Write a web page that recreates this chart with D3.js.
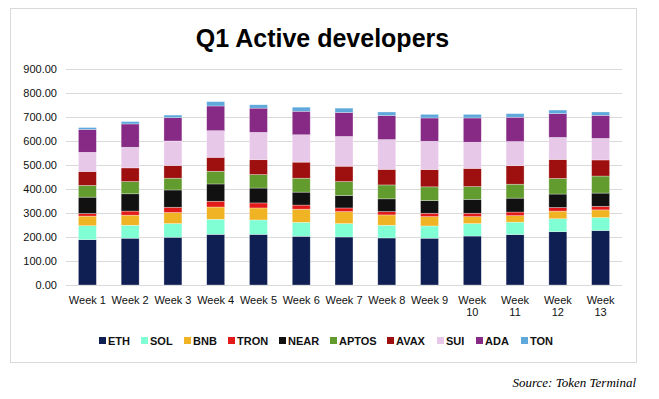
<!DOCTYPE html>
<html>
<head>
<meta charset="utf-8">
<script src="https://cdn.jsdelivr.net/npm/d3@7"></script>
<style>
  html, body { margin: 0; padding: 0; background: #fff; }
  svg { display: block; }
</style>
</head>
<body>
<div id="chart"></div>
<script>
const weeks = ['Week 1', 'Week 2', 'Week 3', 'Week 4', 'Week 5', 'Week 6', 'Week 7',
  'Week 8', 'Week 9', 'Week 10', 'Week 11', 'Week 12', 'Week 13'];

const chains = ['ETH', 'SOL', 'BNB', 'TRON', 'NEAR', 'APTOS', 'AVAX', 'SUI', 'ADA', 'TON'];

const eth   = [189, 195, 199, 211, 211, 203, 200, 196, 195, 204, 210, 222, 227];
const sol   = [58, 54, 57, 63, 60, 58, 56, 53, 51, 52, 52, 54, 54];
const bnb   = [40, 42, 46, 51, 50, 55, 50, 43, 39, 29, 27, 32, 32];
const tron  = [11, 17, 22, 24, 21, 17, 15, 14, 14, 14, 15, 15, 15];
const near  = [68, 72, 72, 72, 62, 54, 52, 53, 53, 58, 58, 56, 55];
const aptos = [49, 51, 49, 53, 56, 58, 58, 58, 57, 53, 58, 65, 71];
const avax  = [58, 57, 53, 58, 62, 67, 64, 65, 72, 76, 77, 79, 67];
const sui   = [80, 86, 102, 111, 114, 114, 124, 124, 118, 109, 101, 92, 90];
const ada   = [95, 97, 97, 103, 101, 98, 100, 100, 97, 101, 101, 99, 96];
const ton   = [8, 10, 11, 18, 14, 17, 18, 15, 15, 15, 15, 15, 14];

const yTicks = [0, 100, 200, 300, 400, 500, 600, 700, 800, 900];

const colors = ['#0f1f54', '#80ffd4', '#f0b323', '#e31a1a', '#111111',
  '#629b2e', '#9e1010', '#e8c8e8', '#862a86', '#5ea8dc'];

const series = [eth, sol, bnb, tron, near, aptos, avax, sui, ada, ton];

const W = 659, H = 399;
const margin = { top: 69, right: 37, bottom: 114, left: 66 };
const w = W - margin.left - margin.right;
const h = H - margin.top - margin.bottom;

const rows = weeks.map((wk, i) => {
  const r = { week: wk };
  chains.forEach((c, j) => { r[c] = series[j][i]; });
  return r;
});
const stacked = d3.stack().keys(chains)(rows);

const x = d3.scaleBand().domain(weeks).range([0, w]).paddingInner(0.58).paddingOuter(0.29);
const y = d3.scaleLinear().domain([0, 900]).range([h, 0]);
const color = d3.scaleOrdinal().domain(chains).range(colors);

const svg = d3.select('#chart').append('svg').attr('width', W).attr('height', H)
  .style('font-family', '"Liberation Sans", Arial, sans-serif');

// outer frame
svg.append('rect')
  .attr('x', 10.5).attr('y', 8.5).attr('width', 626).attr('height', 354)
  .attr('fill', '#fff').attr('stroke', '#d9d9d9');

svg.append('text')
  .attr('x', 322.5).attr('y', 47)
  .attr('text-anchor', 'middle')
  .attr('font-size', '25px').attr('font-weight', 'bold').attr('fill', '#000')
  .text('Q1 Active developers');

const g = svg.append('g').attr('transform', `translate(${margin.left},${margin.top})`);

// gridlines + y axis labels
const yAxis = g.append('g').call(d3.axisLeft(y).tickValues(yTicks).tickSize(-w).tickPadding(9)
  .tickFormat(d3.format('.2f')));
yAxis.select('.domain').remove();
yAxis.selectAll('.tick line').attr('stroke', '#d9d9d9').attr('stroke-width', 1.2);
yAxis.selectAll('.tick text').attr('font-size', '11px').attr('fill', '#111')
  .style('font-family', '"Liberation Sans", Arial, sans-serif');

// bars
g.selectAll('.layer')
  .data(stacked)
  .join('g')
  .attr('class', 'layer')
  .attr('fill', d => color(d.key))
  .selectAll('rect')
  .data(d => d)
  .join('rect')
  .attr('x', d => x(d.data.week))
  .attr('y', d => y(d[1]))
  .attr('width', x.bandwidth())
  .attr('height', d => y(d[0]) - y(d[1]))
  .attr('stroke', 'rgba(255,255,255,0.5)')
  .attr('stroke-width', 0.6);

// x axis labels (wrap when too wide for the band)
const xAxis = g.append('g').attr('transform', `translate(0,${h})`)
  .call(d3.axisBottom(x).tickSize(0).tickPadding(11));
xAxis.select('.domain').remove();
xAxis.selectAll('.tick text')
  .attr('font-size', '11px').attr('fill', '#111')
  .style('font-family', '"Liberation Sans", Arial, sans-serif')
  .each(function (d) {
    const t = d3.select(this);
    if (this.getComputedTextLength() > 38) {
      const parts = d.split(' ');
      t.text(null);
      parts.forEach((p, i) => {
        t.append('tspan').attr('x', 0).attr('dy', i === 0 ? '0.71em' : '1.15em').text(p);
      });
      t.attr('dy', null);
    }
  });

// legend
const legendX = [99, 141, 184, 228, 279, 330, 387, 437, 476, 521];
const legend = svg.append('g').attr('transform', 'translate(0,341)');
chains.forEach((c, i) => {
  const it = legend.append('g').attr('transform', `translate(${legendX[i]},0)`);
  it.append('rect').attr('x', 0).attr('y', -4).attr('width', 7).attr('height', 7).attr('fill', color(c));
  it.append('text').attr('x', 9).attr('y', 4)
    .attr('font-size', '11px').attr('font-weight', 'bold').attr('fill', '#111')
    .text(c);
});

svg.append('text')
  .attr('x', 636).attr('y', 387)
  .attr('text-anchor', 'end')
  .attr('font-family', '"Liberation Serif", "Times New Roman", serif')
  .attr('font-style', 'italic').attr('font-size', '13px').attr('fill', '#000')
  .text('Source: Token Terminal');
</script>
</body>
</html>
